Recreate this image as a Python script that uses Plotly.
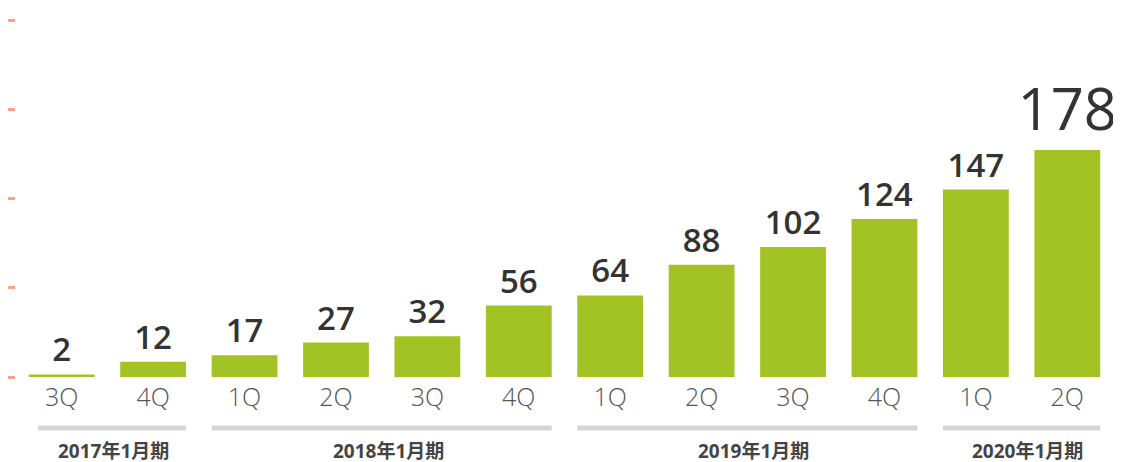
import plotly.graph_objects as go

quarters = ["3Q", "4Q", "1Q", "2Q", "3Q", "4Q", "1Q", "2Q", "3Q", "4Q", "1Q", "2Q"]
values = [2, 12, 17, 27, 32, 56, 64, 88, 102, 124, 147, 178]

# fiscal year groups: label, first bar index, last bar index
group_labels = ["2017年1月期", "2018年1月期", "2019年1月期", "2020年1月期"]
group_start = [0, 2, 6, 10]
group_end = [1, 5, 9, 11]

x = list(range(len(values)))

GREEN = "#a3c324"
TEXT = "#333333"
FONT = "'Open Sans', 'Noto Sans CJK JP', sans-serif"

fig = go.Figure()

fig.add_trace(
    go.Bar(
        x=x,
        y=values,
        width=0.72,
        marker=dict(color=GREEN, line_width=0),
        text=[str(v) for v in values],
        textposition="outside",
        constraintext="none",
        textfont=dict(
            family=FONT,
            size=[33] * (len(values) - 1) + [58],
            color=TEXT,
            weight=[600] * (len(values) - 1) + [500],
        ),
        cliponaxis=False,
        hoverinfo="skip",
    )
)

# gray bracket lines and fiscal year labels under the quarters
for lab, s, e in zip(group_labels, group_start, group_end):
    fig.add_shape(
        type="line",
        xref="x",
        yref="paper",
        x0=s - 0.26 if s == 0 else s - 0.36,
        x1=e + 0.36,
        y0=-0.143,
        y1=-0.143,
        line=dict(color="#d6d6d6", width=5),
    )
    fig.add_annotation(
        x=(s + e) / 2 + 0.07,
        y=-0.207,
        xref="x",
        yref="paper",
        yanchor="middle",
        text=lab,
        showarrow=False,
        font=dict(family=FONT, size=19, color="#444444", weight=700),
    )

fig.update_layout(
    width=1121,
    height=462,
    margin=dict(l=8, r=16, t=12, b=93),
    paper_bgcolor="white",
    plot_bgcolor="white",
    showlegend=False,
    xaxis=dict(
        tickmode="array",
        tickvals=x,
        ticktext=quarters,
        range=[-0.5, len(values) - 0.5],
        showgrid=False,
        zeroline=False,
        showline=False,
        ticks="",
        automargin=False,
        ticklabelstandoff=3,
        tickfont=dict(family=FONT, size=25, color="#555555", weight=300),
    ),
    yaxis=dict(
        range=[0, 280],
        tickvals=[0, 70, 140, 210, 280],
        showticklabels=False,
        ticks="outside",
        ticklen=8,
        tickwidth=3,
        tickcolor="#f9a08a",
        showgrid=False,
        zeroline=False,
        showline=False,
        automargin=False,
    ),
)

fig.write_html("out.html")
